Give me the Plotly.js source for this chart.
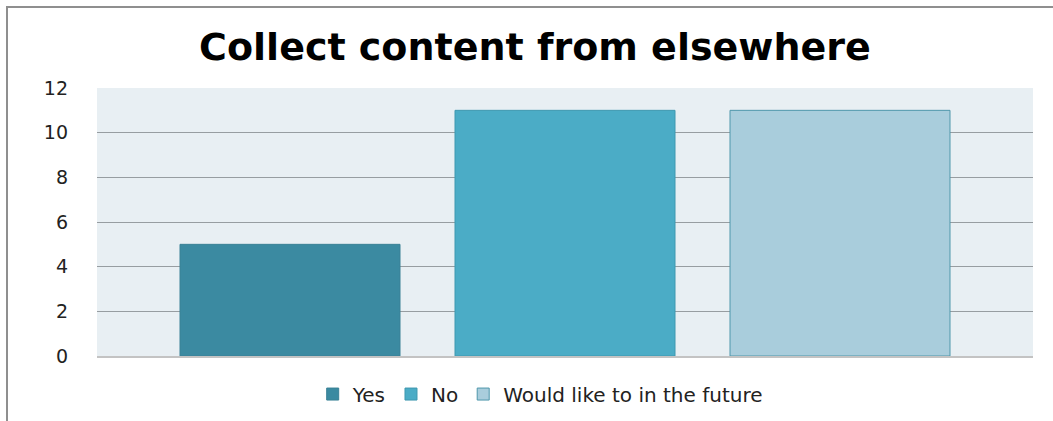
<!DOCTYPE html>
<html>
<head>
<meta charset="utf-8">
<script src="https://cdn.plot.ly/plotly-3.0.1.min.js"></script>
<style>
  html, body { margin: 0; padding: 0; background: #ffffff; }
  #wrap { position: relative; width: 1053px; height: 421px; }
  #chart { width: 1053px; height: 421px; }
  #frame { position: absolute; left: 6px; top: 6px; right: 0; bottom: 0;
           border-top: 2px solid #8f8f8f; border-left: 2px solid #8f8f8f;
           pointer-events: none; }
</style>
</head>
<body>
<div id="wrap">
  <div id="chart"></div>
  <div id="frame"></div>
</div>
<script>
const chartTitle = "Collect content from elsewhere";
const category = [""];
const seriesNames = ["Yes", "No", "Would like to in the future"];
const yesValues = [5];
const noValues = [11];
const futureValues = [11];
const yTicks = [0, 2, 4, 6, 8, 10, 12];

const fillColors = ["#3b8aa1", "#4bacc6", "#a9cddc"];
const edgeColors = ["#3a8196", "#3f98b0", "#4f97ab"];
const allValues = [yesValues, noValues, futureValues];

const data = seriesNames.map((name, i) => ({
  type: "bar",
  name: name,
  legendgroup: "g" + i,
  x: category,
  y: allValues[i],
  marker: { color: fillColors[i], line: { color: edgeColors[i], width: 1 } },
  hoverinfo: "y+name"
}));

const layout = {
  width: 1053,
  height: 421,
  margin: { l: 97, r: 20, t: 88, b: 65 },
  paper_bgcolor: "#ffffff",
  plot_bgcolor: "#e8eff3",
  font: { family: "DejaVu Sans, sans-serif", color: "#222222" },
  title: {
    text: "<b>" + chartTitle + "</b>",
    font: { family: "DejaVu Sans, sans-serif", size: 38, color: "#000000" },
    x: 0.508, xref: "container", xanchor: "center",
    y: 0.888, yref: "container", yanchor: "middle"
  },
  barmode: "group",
  bargap: 0.1186,
  bargroupgap: 0.2,
  showlegend: true,
  legend: {
    orientation: "h",
    x: 0.513, xref: "container", xanchor: "center",
    y: 0.064, yref: "container", yanchor: "middle",
    font: { family: "DejaVu Sans, sans-serif", size: 20, color: "#222222" },
    tracegroupgap: 12,
    traceorder: "normal"
  },
  xaxis: {
    type: "category",
    showticklabels: false,
    showgrid: false,
    zeroline: false,
    showline: true,
    linecolor: "#c3c3c3",
    linewidth: 2,
    fixedrange: true
  },
  yaxis: {
    range: [0, 12],
    tickvals: yTicks,
    ticktext: yTicks.map(String),
    showgrid: true,
    gridcolor: "#979da1",
    gridwidth: 1,
    zeroline: false,
    showline: false,
    ticks: "",
    ticklabelstandoff: 28,
    tickfont: { family: "DejaVu Sans, sans-serif", size: 19, color: "#222222" },
    fixedrange: true
  }
};

Plotly.newPlot("chart", data, layout, { displayModeBar: false, staticPlot: true });
</script>
</body>
</html>
